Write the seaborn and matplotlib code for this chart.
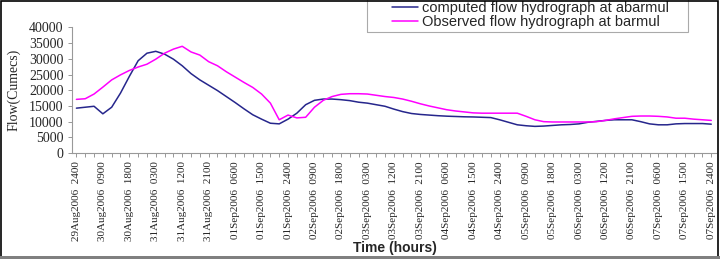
import numpy as np
import pandas as pd
import matplotlib
matplotlib.use("Agg")
import matplotlib.pyplot as plt
import seaborn as sns
from matplotlib.patches import Rectangle

# Flow values every 3 hours, 29Aug2006 2400 .. 07Sep2006 2400 (73 points)
computed = [14300, 14600, 14900, 12500, 14600, 19100, 24400, 29400, 31800, 32400,
            31500, 29900, 27800, 25300, 23300, 21600, 19900, 18000, 16100, 14100,
            12200, 10800, 9500, 9300, 10800, 12700, 15400, 16800, 17200, 17200,
            17000, 16700, 16200, 15900, 15400, 14900, 14000, 13200, 12600, 12300,
            12100, 11900, 11750, 11650, 11550, 11500, 11400, 11300, 10600, 9800,
            9000, 8700, 8500, 8600, 8800, 9000, 9100, 9300, 9800, 10100,
            10400, 10600, 10600, 10600, 10000, 9300, 9000, 9000, 9300, 9400,
            9400, 9400, 9200]

observed = [17100, 17300, 18800, 21000, 23300, 24900, 26300, 27400, 28300, 29900,
            31800, 33100, 34000, 32200, 31200, 29100, 27800, 25900, 24200, 22500,
            20900, 18800, 15900, 10600, 12100, 11200, 11400, 14600, 16800, 18000,
            18700, 18900, 18900, 18800, 18400, 18000, 17700, 17200, 16500, 15700,
            15000, 14400, 13800, 13400, 13100, 12800, 12700, 12700, 12700, 12700,
            12700, 11700, 10600, 10000, 9900, 9900, 9900, 9900, 9900, 10000,
            10400, 10900, 11300, 11700, 11800, 11800, 11700, 11500, 11100, 11100,
            10800, 10600, 10400]

# one label every 9 hours (every third point)
tick_labels = ["29Aug2006  2400", "30Aug2006  0900", "30Aug2006  1800",
               "31Aug2006  0300", "31Aug2006  1200", "31Aug2006  2100",
               "01Sep2006  0600", "01Sep2006  1500", "01Sep2006  2400",
               "02Sep2006  0900", "02Sep2006  1800", "03Sep2006  0300",
               "03Sep2006  1200", "03Sep2006  2100", "04Sep2006  0600",
               "04Sep2006  1500", "04Sep2006  2400", "05Sep2006  0900",
               "05Sep2006  1800", "06Sep2006  0300", "06Sep2006  1200",
               "06Sep2006  2100", "07Sep2006  0600", "07Sep2006  1500",
               "07Sep2006  2400"]

series_names = ["computed flow hydrograph at abarmul",
                "Observed flow hydrograph at barmul"]

step = np.arange(len(computed))
df = pd.DataFrame({
    "step": np.concatenate([step, step]),
    "flow": computed + observed,
    "series": [series_names[0]] * len(computed) + [series_names[1]] * len(observed),
})

sns.set_style("white")
plt.rcParams["font.family"] = ["Liberation Serif", "DejaVu Serif"]

fig = plt.figure(figsize=(7.2, 2.59), dpi=100)
ax = fig.add_axes([0.1, 0.409, 0.894, 0.485])

sns.lineplot(data=df, x="step", y="flow", hue="series",
             palette=["#26268c", "#ff00ff"], linewidth=1.1, ax=ax)

ax.set_xlim(-0.5, len(computed) - 0.5)
ax.set_ylim(0, 40000)
ax.set_yticks(np.arange(0, 40001, 5000))
ax.set_yticklabels([str(v) for v in range(0, 40001, 5000)], fontsize=10)

ax.set_xticks(step)
labels = [""] * len(step)
for k, lab in enumerate(tick_labels):
    labels[k * 3] = lab
ax.set_xticklabels(labels, rotation=90, fontsize=8)

ax.tick_params(axis="both", direction="out", length=3, width=0.6,
               color="#888888", pad=3, bottom=True, left=True)
for side in ["top", "right"]:
    ax.spines[side].set_visible(False)
for side in ["left", "bottom"]:
    ax.spines[side].set_color("#999999")
    ax.spines[side].set_linewidth(0.8)

ax.set_xlabel("")
ax.set_ylabel("Flow(Cumecs)", fontsize=10, labelpad=6)
fig.text(0.548, 0.044, "Time (hours)", ha="center", va="center",
         fontsize=10, fontweight="bold", family="Liberation Sans")

leg = ax.legend(loc="upper left", bbox_to_anchor=(0.544, 0.996),
                bbox_transform=fig.transFigure, frameon=False,
                borderaxespad=0, handlelength=1.8, handletextpad=0.3,
                borderpad=0, labelspacing=0.0,
                prop={"family": "Liberation Sans", "size": 10.5})

# legend box, its top runs past the picture edge
fig.patches.append(Rectangle((367 / 720, 1 - 32 / 259), 321 / 720, 40 / 259,
                             transform=fig.transFigure, fill=False,
                             edgecolor="#aaaaaa", linewidth=0.8))

# outer border of the picture
fig.patches.append(Rectangle((0.001, 0.006), 0.996, 0.99, transform=fig.transFigure,
                             fill=False, edgecolor="black", linewidth=1.2))
fig.patches.append(Rectangle((0, 0), 1, 0.012, transform=fig.transFigure,
                             facecolor="#808080", edgecolor="none"))

fig.savefig("out.png", dpi=100)
